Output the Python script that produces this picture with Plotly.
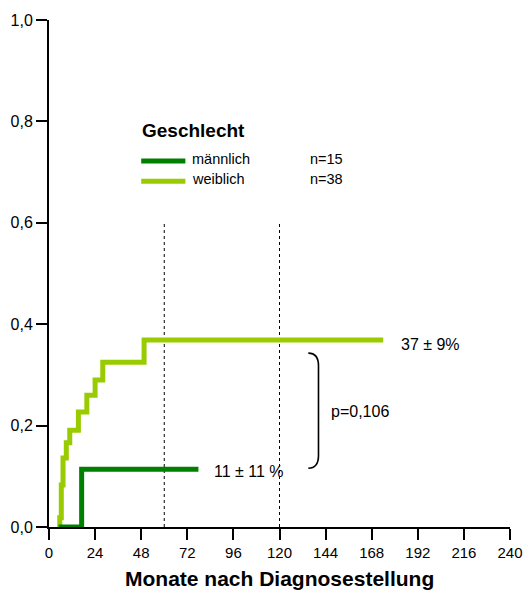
import plotly.graph_objects as go

# Data
weiblich_months = [5.0, 5.6, 6.4, 7.3, 9.0, 10.8, 15.3, 19.7, 24.0, 28.0, 49.5, 174.0]
weiblich_values = [0.0, 0.018, 0.083, 0.136, 0.166, 0.191, 0.227, 0.260, 0.290, 0.325, 0.369, 0.369]
maennlich_months = [5.0, 17.0, 77.8]
maennlich_values = [0.0, 0.114, 0.114]
x_ticks = list(range(0, 241, 24))
y_ticks = [0.0, 0.2, 0.4, 0.6, 0.8, 1.0]
ref_lines = [60, 120]
label_w = "37 ± 9%"
label_m = "11 ± 11 %"
p_text = "p=0,106"

FONT = "Liberation Sans, Arial, sans-serif"
LIGHT = "#99CC00"
DARK = "#008000"

fig = go.Figure()
fig.add_trace(go.Scatter(x=weiblich_months, y=weiblich_values, mode="lines",
                         line=dict(color=LIGHT, width=5, shape="hv"), showlegend=False,
                         hoverinfo="skip"))
fig.add_trace(go.Scatter(x=maennlich_months, y=maennlich_values, mode="lines",
                         line=dict(color=DARK, width=5, shape="hv"), showlegend=False,
                         hoverinfo="skip"))

shapes = []
for xv in ref_lines:
    shapes.append(dict(type="line", xref="x", yref="y", x0=xv, x1=xv, y0=0, y1=0.6,
                       line=dict(color="black", width=1, dash="dot"), layer="below"))
# bracket
shapes.append(dict(type="path", xref="x", yref="y",
                   path="M 135,0.343 Q 140.3,0.343 140.3,0.318 L 140.3,0.141 Q 140.3,0.116 135,0.116",
                   line=dict(color="black", width=1.6)))
# legend lines
shapes.append(dict(type="line", xref="x", yref="y", x0=48, x1=71, y0=0.722, y1=0.722,
                   line=dict(color=DARK, width=5)))
shapes.append(dict(type="line", xref="x", yref="y", x0=48, x1=71, y0=0.682, y1=0.682,
                   line=dict(color=LIGHT, width=5)))

annotations = [
    dict(x=47.5, y=0.783, xref="x", yref="y", text="<b>Geschlecht</b>", showarrow=False,
         xanchor="left", yanchor="middle", font=dict(family=FONT, size=19, color="black")),
    dict(x=73.6, y=0.725, xref="x", yref="y", text="männlich", showarrow=False,
         xanchor="left", yanchor="middle", font=dict(family=FONT, size=14.5, color="black")),
    dict(x=135, y=0.725, xref="x", yref="y", text="n=15", showarrow=False,
         xanchor="left", yanchor="middle", font=dict(family=FONT, size=14.5, color="black")),
    dict(x=73.6, y=0.686, xref="x", yref="y", text="weiblich", showarrow=False,
         xanchor="left", yanchor="middle", font=dict(family=FONT, size=14.5, color="black")),
    dict(x=135, y=0.686, xref="x", yref="y", text="n=38", showarrow=False,
         xanchor="left", yanchor="middle", font=dict(family=FONT, size=14.5, color="black")),
    dict(x=182, y=0.36, xref="x", yref="y", text=label_w, showarrow=False,
         xanchor="left", yanchor="middle", font=dict(family=FONT, size=16, color="black")),
    dict(x=85, y=0.11, xref="x", yref="y", text=label_m, showarrow=False,
         xanchor="left", yanchor="middle", font=dict(family=FONT, size=16, color="black")),
    dict(x=146, y=0.227, xref="x", yref="y", text=p_text, showarrow=False,
         xanchor="left", yanchor="middle", font=dict(family=FONT, size=16, color="black")),
    dict(x=0.5, y=-0.1006, xref="paper", yref="paper", text="<b>Monate nach Diagnosestellung</b>",
         showarrow=False, xanchor="center", yanchor="middle",
         font=dict(family=FONT, size=21, color="black")),
]

fig.update_layout(
    width=529, height=590,
    margin=dict(l=49, r=19, t=20, b=63, autoexpand=False),
    paper_bgcolor="white", plot_bgcolor="white",
    separators=",.",
    shapes=shapes, annotations=annotations,
    font=dict(family=FONT, color="black"),
)
fig.update_xaxes(range=[0, 240], tickvals=x_ticks, showgrid=False, zeroline=False,
                 showline=True, linecolor="black", linewidth=2, ticks="outside",
                 ticklen=11, tickwidth=2, tickcolor="black", automargin=False,
                 tickfont=dict(family=FONT, size=15, color="black"))
fig.update_yaxes(range=[0, 1.0], tickvals=y_ticks, tickformat=".1f", showgrid=False,
                 zeroline=False, showline=True, linecolor="black", linewidth=2,
                 ticks="outside", ticklen=11, tickwidth=2, tickcolor="black", automargin=False,
                 tickfont=dict(family=FONT, size=16, color="black"))

fig.write_html("out.html")
